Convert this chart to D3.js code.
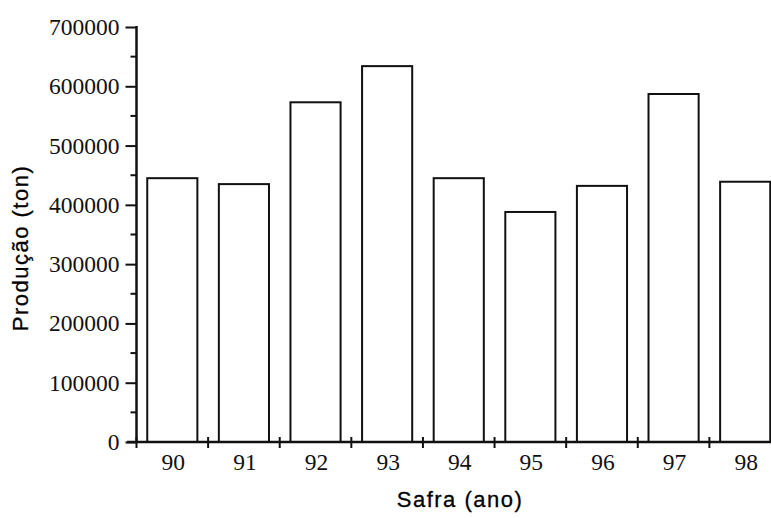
<!DOCTYPE html>
<html>
<head>
<meta charset="utf-8">
<script src="https://cdn.jsdelivr.net/npm/d3@7"></script>
<style>
    body { margin: 0; background: #fff; }
    svg { display: block; }
    .tick-label { font-family: "Liberation Serif", "Times New Roman", serif; font-size: 23.5px; fill: #111; }
    .title { font-family: "Liberation Sans", Arial, sans-serif; font-size: 22px; letter-spacing: 1.5px; fill: #000; stroke: #000; stroke-width: 0.3px; }
</style>
</head>
<body>
<div id="chart"></div>
<script>
// safra (ano) e producao (ton)
var years = ["90", "91", "92", "93", "94", "95", "96", "97", "98"];
var production = [445000, 435000, 573000, 634000, 445000, 388000, 432000, 587000, 439000];
var yTicks = [0, 100000, 200000, 300000, 400000, 500000, 600000, 700000];
var yMinorTicks = [50000, 150000, 250000, 350000, 450000, 550000, 650000];

var width = 771, height = 518;
var plotLeft = 136.5, plotRight = 781, plotTop = 27, plotBottom = 442;

var svg = d3.select("#chart").append("svg")
    .attr("width", width)
    .attr("height", height);

var x = d3.scaleBand()
    .domain(years)
    .range([plotLeft, plotRight])
    .paddingInner(0.3)
    .paddingOuter(0.15);

var y = d3.scaleLinear()
    .domain([0, 700000])
    .range([plotBottom, plotTop]);

// barras
svg.append("g").selectAll("rect")
    .data(years)
    .enter().append("rect")
    .attr("x", function(d){ return x(d); })
    .attr("y", function(d, i){ return y(production[i]); })
    .attr("width", x.bandwidth())
    .attr("height", function(d, i){ return y(0) - y(production[i]); })
    .style("fill", "#fff")
    .style("stroke", "#111")
    .style("stroke-width", 2);

// eixo y
var yAxis = d3.axisLeft(y)
    .tickValues(yTicks)
    .tickSize(11)
    .tickPadding(6)
    .tickFormat(d3.format("d"));
var gy = svg.append("g")
    .attr("transform", "translate(" + plotLeft + ",0)")
    .call(yAxis);
gy.select(".domain").remove();
gy.attr("font-size", null).attr("font-family", null);
gy.selectAll(".tick line").style("stroke", "#111").style("stroke-width", 2);
gy.selectAll(".tick text").attr("class", "tick-label");
gy.append("line")
    .attr("x1", 0).attr("x2", 0)
    .attr("y1", y(700000) - 1).attr("y2", y(0) + 1)
    .style("stroke", "#111")
    .style("stroke-width", 2.5);
gy.selectAll(".minor")
    .data(yMinorTicks)
    .enter().append("line")
    .attr("class", "minor")
    .attr("x1", -6).attr("x2", 0)
    .attr("y1", function(d){ return y(d); })
    .attr("y2", function(d){ return y(d); })
    .style("stroke", "#111")
    .style("stroke-width", 2);

// eixo x
var gx = svg.append("g")
    .attr("transform", "translate(0," + y(0) + ")");
gx.append("line")
    .attr("x1", 127).attr("x2", width)
    .attr("y1", 0).attr("y2", 0)
    .style("stroke", "#111")
    .style("stroke-width", 2.5);
var bounds = years.map(function(d){ return x(d) - x.step() * x.paddingInner() / 2; });
gx.selectAll(".xtick")
    .data(bounds)
    .enter().append("line")
    .attr("class", "xtick")
    .attr("x1", function(d){ return d; })
    .attr("x2", function(d){ return d; })
    .attr("y1", -5).attr("y2", 6)
    .style("stroke", "#111")
    .style("stroke-width", 2);
gx.selectAll(".xlabel")
    .data(years)
    .enter().append("text")
    .attr("class", "tick-label")
    .attr("x", function(d){ return x(d) + x.bandwidth() / 2 + 1; })
    .attr("y", 28)
    .attr("text-anchor", "middle")
    .text(function(d){ return d; });

// titulos
svg.append("text")
    .attr("class", "title")
    .attr("x", 460)
    .attr("y", 507)
    .attr("text-anchor", "middle")
    .text("Safra (ano)");

svg.append("text")
    .attr("class", "title")
    .attr("transform", "translate(28,248) rotate(-90)")
    .attr("text-anchor", "middle")
    .text("Produção (ton)");
</script>
</body>
</html>
